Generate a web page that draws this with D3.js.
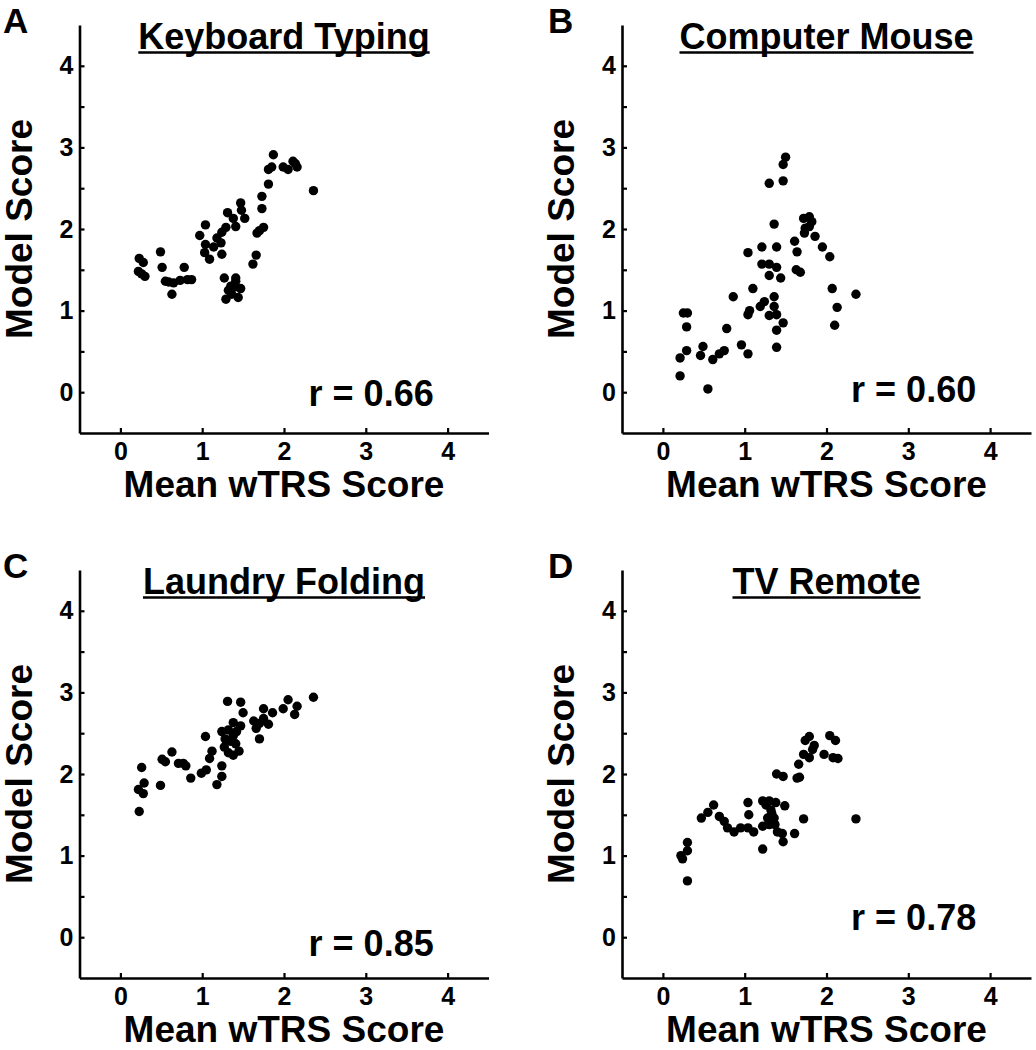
<!DOCTYPE html>
<html><head><meta charset="utf-8">
<script src="https://cdn.jsdelivr.net/npm/d3@7"></script>
<style>
body{margin:0;background:#fff}
svg text{font-family:"Liberation Sans",Arial,Helvetica,sans-serif;font-weight:bold;fill:#000}
</style>
</head><body>
<svg id="chart" width="1036" height="1050"></svg>
<script>
// ---- data ----
const panelLetters = ["A", "B", "C", "D"];
const panelTitles = ["Keyboard Typing", "Computer Mouse", "Laundry Folding", "TV Remote"];
const rLabels = ["r = 0.66", "r = 0.60", "r = 0.85", "r = 0.78"];
const xAxisLabel = "Mean wTRS Score";
const yAxisLabel = "Model Score";
const xTickValues = [0, 1, 2, 3, 4];
const yTickValues = [0, 0.5, 1, 1.5, 2, 2.5, 3, 3.5, 4];

const keyboardTyping = [[1.87,2.91],[1.81,2.73],[1.85,2.76],[1.99,2.76],[2.05,2.73],[2.11,2.83],[2.14,2.80],[2.16,2.76],[2.36,2.47],[1.81,2.55],[1.73,2.40],[1.73,2.25],[1.75,2.02],[1.70,1.98],[1.67,1.95],[1.66,1.68],[1.62,1.57],[1.47,2.32],[1.48,2.23],[1.52,2.13],[1.41,2.03],[1.38,2.13],[1.31,2.20],[1.29,2.02],[1.24,1.96],[1.18,1.89],[1.23,1.83],[1.14,1.78],[1.04,2.05],[0.97,1.92],[1.04,1.81],[1.03,1.71],[1.09,1.63],[1.24,1.69],[1.27,1.40],[1.41,1.40],[1.29,1.14],[1.44,1.16],[1.32,1.25],[1.40,1.29],[1.47,1.27],[1.36,1.20],[1.41,1.36],[1.35,1.30],[0.23,1.64],[0.28,1.59],[0.22,1.48],[0.26,1.45],[0.30,1.42],[0.49,1.72],[0.51,1.53],[0.55,1.36],[0.63,1.20],[0.65,1.34],[0.73,1.37],[0.78,1.53],[0.82,1.38],[0.87,1.38],[0.59,1.35]];

const computerMouse = [[1.50,2.88],[1.47,2.79],[1.47,2.59],[1.30,2.56],[1.36,2.06],[1.72,2.13],[1.79,2.15],[1.82,2.09],[1.73,1.95],[1.74,2.01],[1.79,2.03],[1.86,1.91],[1.95,1.78],[2.04,1.66],[2.07,1.27],[2.13,1.04],[2.10,0.82],[2.36,1.20],[1.61,1.85],[1.64,1.72],[1.63,1.50],[1.68,1.47],[1.21,1.78],[1.39,1.78],[1.04,1.71],[1.21,1.57],[1.30,1.57],[1.39,1.53],[1.30,1.43],[1.44,1.40],[1.10,1.27],[0.86,1.17],[1.36,1.17],[1.24,1.11],[1.19,1.05],[1.06,1.00],[1.04,0.95],[1.36,1.05],[1.30,0.94],[1.39,0.95],[1.47,0.85],[1.39,0.76],[1.39,0.55],[0.25,0.97],[0.30,0.97],[0.29,0.80],[0.78,0.78],[0.29,0.51],[0.21,0.42],[0.49,0.56],[0.46,0.45],[0.61,0.40],[0.69,0.47],[0.75,0.51],[0.96,0.58],[1.04,0.47],[0.21,0.20],[0.55,0.04]];

const laundryFolding = [[2.36,2.94],[2.05,2.91],[2.16,2.83],[2.13,2.73],[1.99,2.80],[1.86,2.75],[1.75,2.80],[1.81,2.61],[1.75,2.68],[1.70,2.62],[1.63,2.65],[1.66,2.56],[1.70,2.43],[1.31,2.89],[1.47,2.88],[1.50,2.75],[1.47,2.59],[1.38,2.63],[1.32,2.54],[1.24,2.52],[1.38,2.47],[1.41,2.37],[1.28,2.43],[1.27,2.33],[1.32,2.26],[1.38,2.23],[1.45,2.28],[1.04,2.46],[1.12,2.28],[1.09,2.19],[1.24,2.10],[1.24,1.97],[1.18,1.87],[1.05,2.05],[0.99,2.01],[0.86,1.95],[0.80,2.10],[0.71,2.13],[0.63,2.27],[0.51,2.18],[0.55,2.15],[0.49,1.86],[0.26,2.08],[0.29,1.89],[0.22,1.81],[0.28,1.76],[0.23,1.54],[0.77,2.13],[1.35,2.40],[1.42,2.52]];

const tvRemote = [[1.79,2.46],[1.74,2.41],[1.85,2.35],[1.83,2.30],[2.04,2.47],[2.11,2.41],[1.97,2.24],[2.08,2.20],[2.14,2.19],[2.36,1.45],[1.72,2.24],[1.79,2.20],[1.66,2.12],[1.67,1.96],[1.64,1.95],[1.39,2.00],[1.47,1.97],[1.22,1.67],[1.30,1.67],[1.38,1.65],[1.49,1.61],[1.04,1.65],[1.05,1.50],[1.32,1.56],[1.28,1.46],[1.36,1.46],[1.30,1.38],[1.37,1.38],[1.22,1.36],[1.40,1.29],[1.46,1.27],[1.47,1.17],[1.61,1.27],[1.72,1.45],[1.22,1.08],[1.11,1.29],[1.04,1.34],[0.95,1.34],[0.87,1.29],[0.79,1.34],[0.75,1.42],[0.69,1.48],[0.62,1.62],[0.55,1.53],[0.47,1.46],[0.30,1.16],[0.30,1.06],[0.22,1.00],[0.24,0.96],[0.30,0.69],[1.33,1.52],[1.26,1.62]];

const panelData = [keyboardTyping, computerMouse, laundryFolding, tvRemote];

// ---- layout ----
const colLeft = [79.5, 622];
const rowTop = [25, 570];
const W = 409, H = 408;
const rLabelY = [-0.165, -0.12, -0.23, 0.09]; // baseline, in data units
const letterX = [3, 548];

const svg = d3.select("#chart");
const FONT = '"Liberation Sans",Arial,Helvetica,sans-serif';

panelData.forEach((pts, i) => {
  const left = colLeft[i % 2], top = rowTop[Math.floor(i / 2)];
  const x = d3.scaleLinear().domain([-0.5, 4.5]).range([left, left + W]);
  const y = d3.scaleLinear().domain([-0.5, 4.5]).range([top + H, top]);
  const g = svg.append("g");

  // points
  g.append("g").selectAll("circle").data(pts).join("circle")
    .attr("cx", d => x(d[0])).attr("cy", d => y(d[1]))
    .attr("r", 4.7).attr("fill", "#000");

  // x axis
  const xa = g.append("g").attr("transform", `translate(0,${top + H})`)
    .call(d3.axisBottom(x).tickValues(xTickValues).tickSizeInner(-5).tickSizeOuter(0)
      .tickPadding(9).tickFormat(d3.format("d")));
  // y axis
  const ya = g.append("g").attr("transform", `translate(${left},0)`)
    .call(d3.axisLeft(y).tickValues(yTickValues).tickSizeInner(-5).tickSizeOuter(0)
      .tickPadding(6).tickFormat(d => Number.isInteger(d) ? d : ""));
  [xa, ya].forEach(a => {
    a.attr("font-size", 25).attr("font-family", FONT).attr("font-weight", "bold");
    a.select(".domain").attr("stroke", "#000").attr("stroke-width", 2.6);
    a.selectAll(".tick line").attr("stroke", "#000").attr("stroke-width", 2.2);
    a.selectAll(".tick text").attr("fill", "#000");
  });

  // title with underline
  const t = g.append("text").attr("x", x(2)).attr("y", top + 24)
    .attr("text-anchor", "middle").attr("font-size", 36).text(panelTitles[i]);
  const tw = t.node().getComputedTextLength();
  g.append("line").attr("x1", x(2) - tw / 2).attr("x2", x(2) + tw / 2)
    .attr("y1", top + 27.5).attr("y2", top + 27.5)
    .attr("stroke", "#000").attr("stroke-width", 2.5);

  // panel letter
  g.append("text").attr("x", letterX[i % 2]).attr("y", top + 8)
    .attr("font-size", 35).text(panelLetters[i]);

  // axis labels
  g.append("text").attr("x", x(2)).attr("y", top + H + 64)
    .attr("text-anchor", "middle").attr("font-size", 37).text(xAxisLabel);
  g.append("text").attr("transform", `translate(${left - 48},${y(2)}) rotate(-90)`)
    .attr("text-anchor", "middle").attr("font-size", 37).text(yAxisLabel);

  // correlation label
  g.append("text").attr("x", x(3.83)).attr("y", y(rLabelY[i]))
    .attr("text-anchor", "end").attr("font-size", 36).text(rLabels[i]);
});
</script>
</body></html>
